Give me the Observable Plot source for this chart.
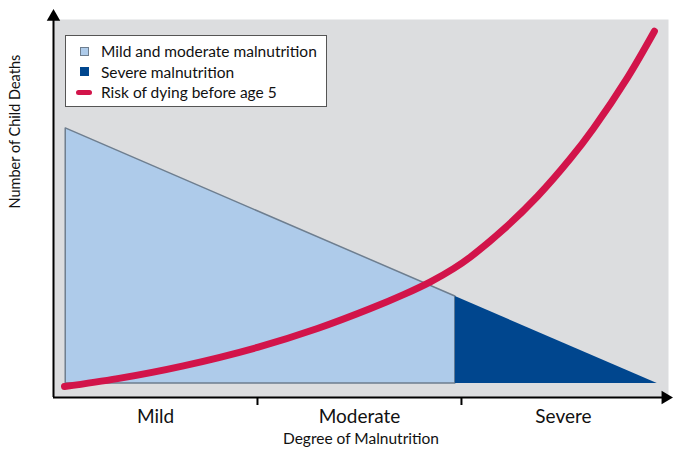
<!DOCTYPE html>
<html>
<head>
<meta charset="utf-8">
<script src="https://cdn.jsdelivr.net/npm/d3@7"></script>
<script src="https://cdn.jsdelivr.net/npm/@observablehq/plot@0.6"></script>
<style>
  body { margin: 0; background: #fff; font-family: Lato, "Open Sans", sans-serif; }
  #wrap { position: relative; width: 673px; height: 452px; }
  #legend {
    position: absolute; left: 65px; top: 35px; width: 262px; height: 72px;
    box-sizing: border-box; background: #fff; border: 1.5px solid #555;
    padding: 5px 0 0 10px; font-size: 15.5px; color: #111;
  }
  .row { display: flex; align-items: center; height: 20.5px; white-space: nowrap; }
  .sw { width: 16px; display: flex; justify-content: center; margin-right: 9px; }
  .sq { width: 9px; height: 9px; box-sizing: border-box; }
  .ln { width: 16px; height: 5px; border-radius: 3px; }
</style>
</head>
<body>
<div id="wrap"></div>
<script>
// ---- data ----
const categories = ["Mild", "Moderate", "Severe"];
const categoryTicks = [0.5, 1.5, 2.5];
const boundaryTicks = [1, 2];
const baseline = 3.7;
const mildX = [0.06, 1.97];
const mildTop = [71.4, 26.8];
const severeX = [1.97, 2.96];
const severeTop = [26.8, 3.7];
const riskX = [0.054, 0.314, 0.637, 1.0, 1.294, 1.554, 1.716, 1.848, 1.961, 2.044, 2.206, 2.373, 2.534, 2.647, 2.814, 2.946];
const riskY = [2.9, 5.0, 8.4, 13.3, 18.3, 23.6, 27.3, 30.7, 34.2, 37.3, 44.6, 53.4, 63.4, 71.4, 84.9, 97.2];
const legendLabels = ["Mild and moderate malnutrition", "Severe malnutrition", "Risk of dying before age 5"];
const xTitle = "Degree of Malnutrition";
const yTitle = "Number of Child Deaths";

const colors = { mild: "#aecbea", mildStroke: "#6e7e8f", severe: "#00468e", risk: "#d2144a", bg: "#dcdddf" };

const mildData = mildX.map((x, i) => ({ x, y1: baseline, y2: mildTop[i] }));
const severeData = severeX.map((x, i) => ({ x, y1: baseline, y2: severeTop[i] }));
const riskData = riskX.map((x, i) => ({ x, y: riskY[i] }));

const chart = Plot.plot({
  width: 673,
  height: 452,
  marginLeft: 53,
  marginRight: 5,
  marginTop: 19,
  marginBottom: 55,
  style: { fontFamily: "Lato, 'Open Sans', sans-serif", color: "#111", background: "transparent" },
  x: { domain: [0, 3.015], label: null },
  y: { domain: [0, 100.3], axis: null, label: null },
  marks: [
    Plot.frame({ fill: colors.bg, stroke: null }),
    Plot.areaY(mildData, { x: "x", y1: "y1", y2: "y2", fill: colors.mild, stroke: colors.mildStroke, strokeWidth: 1.5 }),
    Plot.areaY(severeData, { x: "x", y1: "y1", y2: "y2", fill: colors.severe }),
    Plot.line(riskData, { x: "x", y: "y", curve: "catmull-rom", stroke: colors.risk, strokeWidth: 7, strokeLinecap: "round" }),
    // axis lines with arrowheads
    Plot.ruleX([0], { y1: 0, y2: 101, stroke: "#000", strokeWidth: 2 }),
    Plot.ruleY([0], { x1: 0, x2: 3.0, stroke: "#000", strokeWidth: 2 }),
    Plot.dot([{ x: 0, y: 101 }], { x: "x", y: "y", symbol: "triangle", r: 5, fill: "#000", stroke: null }),
    Plot.dot([{ x: 3.0, y: 0 }], { x: "x", y: "y", symbol: "triangle", r: 5, fill: "#000", stroke: null, rotate: 90 }),
    Plot.axisX(boundaryTicks, { tickSize: 8, tickFormat: () => "", strokeWidth: 2, stroke: "#000", label: null }),
    Plot.axisX(categoryTicks, { tickSize: 0, tickPadding: 12, tickFormat: d => categories[Math.floor(d)], fontSize: 19, label: null }),
    Plot.text([xTitle], { frameAnchor: "bottom", dy: 46, fontSize: 15.5, fill: "#111" }),
    Plot.text([yTitle], { frameAnchor: "left", dx: -38, rotate: -90, fontSize: 14.5, fill: "#111" })
  ]
});

const wrap = document.getElementById("wrap");
wrap.appendChild(chart);

const legend = document.createElement("div");
legend.id = "legend";
const swatches = [
  `<span class="sq" style="background:${colors.mild};border:1px solid ${colors.mildStroke}"></span>`,
  `<span class="sq" style="background:${colors.severe}"></span>`,
  `<span class="ln" style="background:${colors.risk}"></span>`
];
legendLabels.forEach((label, i) => {
  const row = document.createElement("div");
  row.className = "row";
  row.innerHTML = `<span class="sw">${swatches[i]}</span><span>${label}</span>`;
  legend.appendChild(row);
});
wrap.appendChild(legend);
</script>
</body>
</html>
